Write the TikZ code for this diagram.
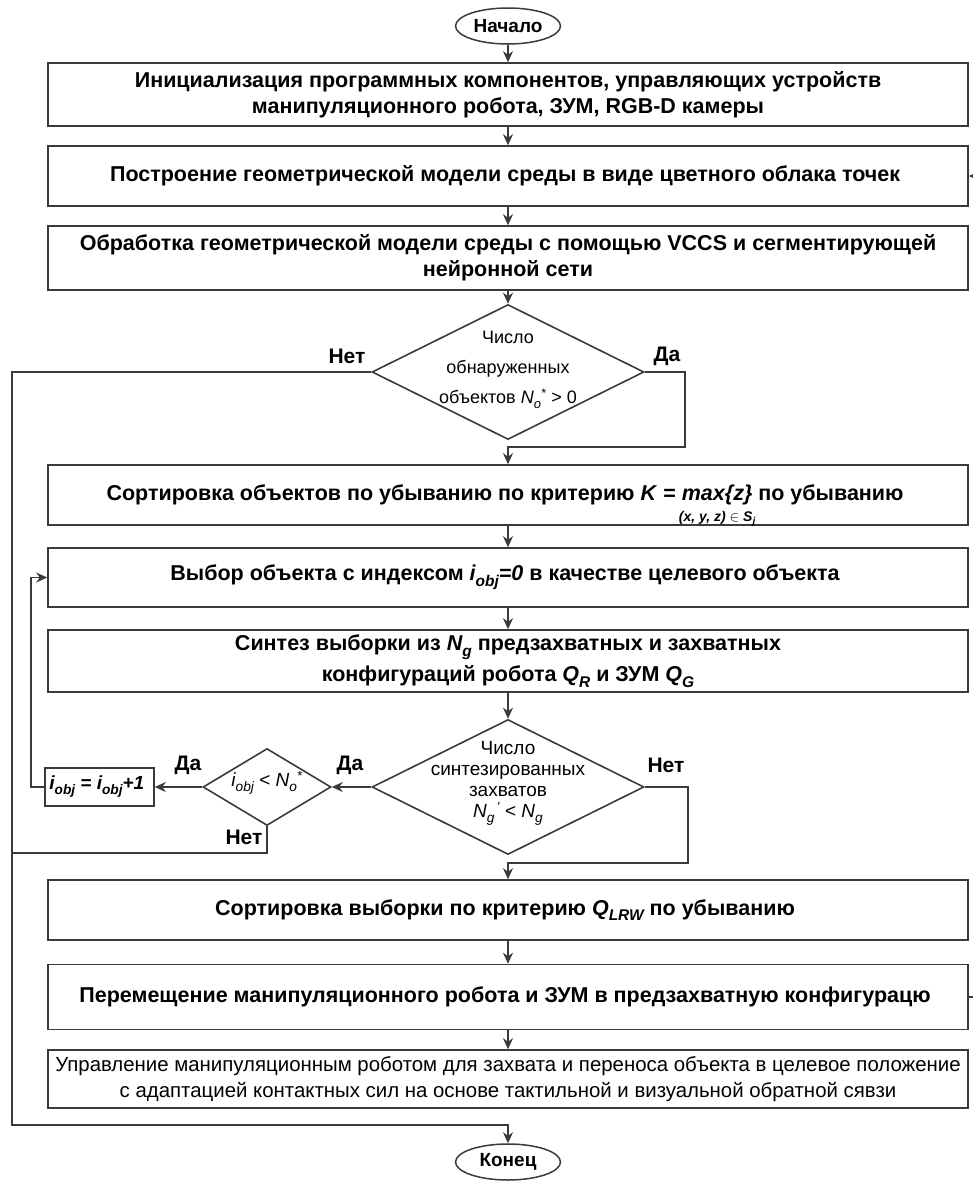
\documentclass[tikz,border=0pt]{standalone}
\usepackage{fontspec}
\setmainfont{Liberation Sans}
\usetikzlibrary{positioning,arrows.meta,shapes.geometric,calc}
\definecolor{lncol}{HTML}{3A3A3A}
\makeatletter
\newcommand\lowidx[1]{\raisebox{-0.5ex}{\fontsize{\the\dimexpr\f@size pt*72/100\relax}{\baselineskip}\selectfont #1}}
\makeatother
\newcommand\dtext[1]{\smash{\makebox[0pt]{\begin{tabular}{@{}c@{}}#1\end{tabular}}}}
\newcommand\undertext[2]{\setbox0\hbox{#1}\rlap{\hbox to \wd0{\hss\raisebox{-1.8ex}[0pt][0pt]{#2}\hss}}\box0{}}

\begin{document}
\begin{tikzpicture}[x=1pt, y=-1pt,
    box/.style={draw=lncol, line width=1.6pt, align=center, font=\bfseries\fontsize{21.5}{26}\selectfont,
                minimum width=920pt, inner sep=2pt},
    term/.style={draw=lncol, line width=1.5pt, ellipse, minimum width=105pt, minimum height=36pt,
                 inner sep=0pt, font=\bfseries\fontsize{19}{20}\selectfont},
    cond/.style={draw=lncol, line width=1.6pt, diamond, inner sep=0pt, minimum width=272pt, minimum height=135pt},
    tag/.style={font=\bfseries\fontsize{21}{22}\selectfont},
    flow/.style={draw=lncol, line width=1.6pt, -{Stealth[length=11pt, width=10pt]}},
    wire/.style={draw=lncol, line width=1.6pt}
  ]
    \useasboundingbox (0,0) rectangle (973,1184);

    \node[term] (start) at (508,26) {Начало};
    \node[box, minimum height=63pt] (init) at (508,94.5) {
      Инициализация программных компонентов, управляющих устройств\\
      манипуляционного робота, ЗУМ, RGB-D камеры
    };
    \node[box, minimum height=60pt] (build) at (508,176) {
      Построение геометрической модели среды в виде цветного облака точек
    };
    \node[box, minimum height=64pt] (proc) at (508,258) {
      Обработка геометрической модели среды с помощью VCCS и сегментирующей\\
      нейронной сети
    };
    \node[cond, font=\fontsize{18}{30}\selectfont] (found) at (508,372) {
      \dtext{Число\\обнаруженных\\объектов \textit{N\lowidx{o}\textsuperscript{*}} > 0}
    };
    \node[box, minimum height=60pt] (sortobj) at (508,495) {
      Сортировка объектов по убыванию по критерию \textit{K} =
      \undertext{\textit{max\{z\}}}{\fontsize{14}{14}\selectfont\textit{(x, y, z)} $\in$ \textit{S\lowidx{j}}}
      по убыванию
    };
    \node[box, minimum height=59pt] (pick) at (508,577.5) {
      Выбор объекта с индексом \textit{i\lowidx{obj}=0} в качестве целевого объекта
    };
    \node[box, minimum height=62pt, font=\bfseries\fontsize{21.5}{31}\selectfont] (synth) at (508,661) {
      Синтез выборки из \textit{N\lowidx{g}} предзахватных и захватных\\
      конфигураций робота \textit{Q\lowidx{R}} и ЗУМ \textit{Q\lowidx{G}}
    };
    \node[cond, font=\fontsize{19}{21}\selectfont] (enough) at (508,787) {
      \dtext{Число\\синтезированных\\захватов\\\textit{N\lowidx{g}\textsuperscript{\,\textquotesingle}} < \textit{N\lowidx{g}}}
    };
    \node[cond, minimum width=128pt, minimum height=77pt, font=\itshape\fontsize{19}{20}\selectfont] (more) at (267,787) {
      \dtext{i\lowidx{obj} < N\lowidx{o}\textsuperscript{*}}
    };
    \node[box, minimum width=109pt, minimum height=38pt, font=\bfseries\itshape\fontsize{19}{20}\selectfont] (next) at (99.5,787) {
      i\lowidx{obj} = i\lowidx{obj}+1
    };
    \node[box, minimum height=60pt] (sortgr) at (508,910) {
      Сортировка выборки по критерию \textit{Q\lowidx{LRW}} по убыванию
    };
    \node[box, minimum height=65pt] (move) at (508,997) {
      Перемещение манипуляционного робота и ЗУМ в предзахватную конфигурацю
    };
    \node[box, minimum height=58pt, font=\fontsize{20.4}{26}\selectfont] (grasp) at (508,1079) {
      Управление манипуляционным роботом для захвата и переноса объекта в целевое положение\\
      с адаптацией контактных сил на основе тактильной и визуальной обратной сявзи
    };
    \node[term] (stop) at (508,1162) {Конец};

    \node[tag] (no1) at (347,356) {Нет};
    \node[tag] (yes1) at (667,356) {Да};
    \node[tag] (no2) at (666,765) {Нет};
    \node[tag] (yes2) at (350,765) {Да};
    \node[tag] (yes3) at (188,765) {Да};
    \node[tag] (no3) at (244,837) {Нет};

    \coordinate (leftbus) at (12,1125);
    \coordinate (yesturn) at (685,447);
    \coordinate (noturn) at (688,863);
    \coordinate (leftjoin) at (12,853);
    \coordinate (loopturn) at (31,577.5);
    \coordinate (rightin) at (973,176);
    \coordinate (rightout) at (973,997);

    \draw[flow] (start.south) -- (init.north);
    \draw[flow] (init.south) -- (build.north);
    \draw[flow] (build.south) -- (proc.north);
    \draw[flow] (proc.south) -- (found.north);
    \draw[flow] (found.east) -| (yesturn) -| (sortobj.north);
    \draw[flow] (found.west) -| (leftbus) -| (stop.north);
    \draw[flow] (sortobj.south) -- (pick.north);
    \draw[flow] (pick.south) -- (synth.north);
    \draw[flow] (synth.south) -- (enough.north);
    \draw[flow] (enough.east) -| (noturn) -| (sortgr.north);
    \draw[flow] (enough.west) -- (more.east);
    \draw[flow] (more.west) -- (next.east);
    \draw[wire] (more.south) |- (leftjoin);
    \draw[flow] (next.west) -| (loopturn) -- (pick.west);
    \draw[flow] (sortgr.south) -- (move.north);
    \draw[flow] (move.south) -- (grasp.north);
    \draw[flow] (rightin) -- (build.east);
    \draw[wire] (move.east) -- (rightout);
  \end{tikzpicture}
\end{document}
